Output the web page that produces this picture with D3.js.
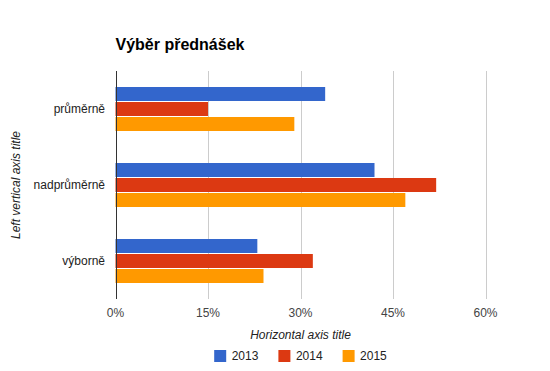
<!DOCTYPE html>
<html>
<head>
<meta charset="utf-8">
<script src="https://cdn.jsdelivr.net/npm/d3@7"></script>
<style>
  body { margin: 0; background: #fff; }
  svg { font-family: Arial, "Liberation Sans", sans-serif; }
</style>
</head>
<body>
<svg id="chart" width="550" height="371"></svg>
<script>
// data
var categories = ['průměrně', 'nadprůměrně', 'výborně']
var series_names = ['2013', '2014', '2015']
var series_colors = ['#3366cc', '#dc3912', '#ff9900']
var values_2013 = [34, 42, 23]
var values_2014 = [15, 52, 32]
var values_2015 = [29, 47, 24]
var tick_values = [0, 15, 30, 45, 60]

var all_values = [values_2013, values_2014, values_2015]

var plot_left = 115.5, plot_right = 485.5
var plot_top = 71, plot_bottom = 299

var svg = d3.select('#chart')

var x = d3.scaleLinear().domain([0, 60]).range([plot_left, plot_right])
var y = d3.scaleBand().domain(categories).range([plot_top, plot_bottom]).paddingInner(0).paddingOuter(0)
var bar_h = 14, bar_gap = 1
var y_inner = d3.scaleBand().domain(series_names).range([0, 3 * bar_h + 2 * bar_gap]).paddingInner(bar_gap / (bar_h + bar_gap))

// title
svg.append('text')
    .attr('x', plot_left)
    .attr('y', 50)
    .attr('font-size', 16)
    .attr('font-weight', 'bold')
    .attr('fill', '#000')
    .text('Výběr přednášek')

// gridlines
svg.append('g').selectAll('line')
    .data(tick_values.slice(1))
    .enter().append('line')
        .attr('x1', function(d) { return Math.round(x(d)) + 0.5 })
        .attr('x2', function(d) { return Math.round(x(d)) + 0.5 })
        .attr('y1', plot_top)
        .attr('y2', plot_bottom)
        .attr('stroke', '#cccccc')
        .attr('stroke-width', 1)

// bars
var groups = svg.append('g').selectAll('g')
    .data(categories)
    .enter().append('g')
        .attr('transform', function(d) {
            return 'translate(0,' + (y(d) + (y.bandwidth() - y_inner.range()[1]) / 2) + ')'
        })

groups.selectAll('rect')
    .data(function(d, i) {
        return series_names.map(function(s, j) { return {series: s, j: j, value: all_values[j][i]} })
    })
    .enter().append('rect')
        .attr('x', x(0))
        .attr('y', function(d) { return y_inner(d.series) })
        .attr('width', function(d) { return x(d.value) - x(0) })
        .attr('height', y_inner.bandwidth())
        .attr('fill', function(d) { return series_colors[d.j] })

// baseline
svg.append('line')
    .attr('x1', Math.round(x(0)) + 0.5)
    .attr('x2', Math.round(x(0)) + 0.5)
    .attr('y1', plot_top)
    .attr('y2', plot_bottom)
    .attr('stroke', '#333333')
    .attr('stroke-width', 1)

// x tick labels
svg.append('g').selectAll('text')
    .data(tick_values)
    .enter().append('text')
        .attr('x', function(d) { return x(d) })
        .attr('y', 316.5)
        .attr('text-anchor', 'middle')
        .attr('font-size', 12)
        .attr('fill', '#444')
        .text(function(d) { return d + '%' })

// category labels
svg.append('g').selectAll('text')
    .data(categories)
    .enter().append('text')
        .attr('x', 105)
        .attr('y', function(d) { return y(d) + y.bandwidth() / 2 })
        .attr('dy', '0.35em')
        .attr('text-anchor', 'end')
        .attr('font-size', 12)
        .attr('fill', '#222')
        .text(function(d) { return d })

// axis titles
svg.append('text')
    .attr('x', (plot_left + plot_right) / 2)
    .attr('y', 338.5)
    .attr('text-anchor', 'middle')
    .attr('font-size', 12)
    .attr('font-style', 'italic')
    .attr('fill', '#222')
    .text('Horizontal axis title')

svg.append('text')
    .attr('transform', 'translate(20,' + ((plot_top + plot_bottom) / 2) + ') rotate(-90)')
    .attr('text-anchor', 'middle')
    .attr('font-size', 12)
    .attr('font-style', 'italic')
    .attr('fill', '#222')
    .text('Left vertical axis title')

// legend, centred under the plot
var legend = svg.append('g')
var items = legend.selectAll('g')
    .data(series_names)
    .enter().append('g')
items.append('rect')
    .attr('width', 12)
    .attr('height', 12)
    .attr('y', 350)
    .attr('fill', function(d, i) { return series_colors[i] })
items.append('text')
    .attr('x', 17.5)
    .attr('y', 360)
    .attr('font-size', 12)
    .attr('fill', '#222')
    .text(function(d) { return d })

var offset = 0
items.each(function() {
    var w = 17.5 + d3.select(this).select('text').node().getComputedTextLength()
    d3.select(this).attr('transform', 'translate(' + offset + ',0)')
    offset += w + 20
})
var legend_w = offset - 20
legend.attr('transform', 'translate(' + ((plot_left + plot_right) / 2 - legend_w / 2) + ',0)')
</script>
</body>
</html>
